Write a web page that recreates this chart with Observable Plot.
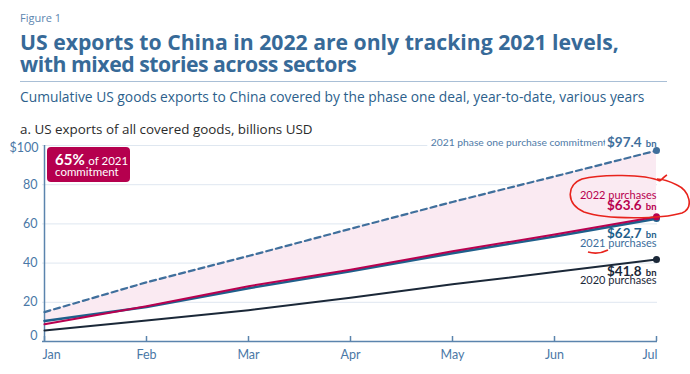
<!DOCTYPE html>
<html><head><meta charset="utf-8">
<script src="https://cdn.jsdelivr.net/npm/d3@7"></script>
<script src="https://cdn.jsdelivr.net/npm/@observablehq/plot@0.6"></script>
<style>
body{margin:0;background:#fff;font-family:"Open Sans",Lato,sans-serif;}
#wrap{position:relative;width:690px;height:374px;overflow:hidden;}
.abs{position:absolute;white-space:nowrap;}
#fig{left:20px;top:11px;font-size:11px;color:#5d86b0;line-height:14px;}
#title{left:20px;top:31px;font-size:21.2px;font-weight:700;line-height:22px;color:#376a98;}
#title .t2{letter-spacing:-0.45px;}
#rule{left:20px;top:81px;width:647px;height:1px;background:#a9bfd6;}
#sub{left:20px;top:88px;font-size:13.8px;color:#2d5f8c;line-height:17px;}
#panel{left:20px;top:121px;font-size:13.4px;color:#2b2b2b;line-height:17px;}
#chart{left:0;top:135px;}
#badge{left:47px;top:147px;width:83px;height:35px;background:#b5004e;border-radius:4px;color:#fff;font-family:Lato,sans-serif;}
#badge .l1{position:absolute;left:8px;top:3px;font-size:15px;font-weight:700;line-height:18px;}
#badge .l1 span{font-size:11.5px;font-weight:400;}
#badge .l2{position:absolute;left:8px;top:18px;font-size:11.5px;line-height:14px;}
#ink{left:0;top:0;pointer-events:none;}
</style>
</head><body>
<div id="wrap">
  <div id="fig" class="abs">Figure 1</div>
  <div id="title" class="abs">US exports to China in 2022 are only tracking 2021 levels,<br><span class="t2">with mixed stories across sectors</span></div>
  <div id="rule" class="abs"></div>
  <div id="sub" class="abs">Cumulative US goods exports to China covered by the phase one deal, year-to-date, various years</div>
  <div id="panel" class="abs">a. US exports of all covered goods, billions USD</div>
  <div id="chart" class="abs"></div>
  <div id="badge" class="abs"><div class="l1"></div><div class="l2">commitment</div></div>
  <svg id="ink" class="abs" width="690" height="374">
    <path d="M660 181 C645 174,600 174,582 179 C566 185,566 204,584 212 C606 220,662 219,682 213 C694 208,690 191,677 185 C669 181,664 179,657 179 M660 181 C663 178,665 176,667 175" fill="none" stroke="#e8231c" stroke-width="1.6"/>
    <path d="M588 252 Q598 255 608 250" fill="none" stroke="#e8231c" stroke-width="1.6"/>
  </svg>
</div>
<script>
const months = ["Jan","Feb","Mar","Apr","May","Jun","Jul"];
const commitment2021 = [15.0, 30.2, 43.6, 57.5, 71.2, 84.2, 97.4];
const purchases2022 = [8.8, 18.0, 28.2, 36.6, 46.0, 54.6, 63.6];
const purchases2021 = [10.5, 17.6, 27.2, 35.8, 45.1, 53.6, 62.7];
const purchases2020 = [5.6, 10.7, 16.0, 22.3, 29.2, 35.4, 41.8];
const yTicks = [0, 20, 40, 60, 80, 100];

const C_COMMIT = "#3f6f9c", C_2022 = "#b8004f", C_2021 = "#1f5f8b", C_2020 = "#1b2838";
const C_AXIS = "#5b84ad", C_TICK = "#4a78a6", C_GRID = "#dfe7f0";

const rows = months.map((m, i) => ({m, c: commitment2021[i], p22: purchases2022[i], p21: purchases2021[i], p20: purchases2020[i]}));
const last = a => a[a.length - 1];
const endM = last(months);
const pct = Math.round(last(purchases2022) / last(commitment2021) * 100);
document.querySelector("#badge .l1").innerHTML = pct + "% <span>of 2021</span>";

const fmt = v => "$" + v.toFixed(1);
const endPt = (v) => [{m: endM, v}];
const font = "Lato, 'Open Sans', sans-serif";

// value label "$xx.x" + "bn" sharing one baseline
const valueLabel = (v, dy, fill, halo) => {
  const extra = halo ? {stroke: "white", strokeWidth: 6} : {};
  return [
    Plot.text(endPt(v), {x: "m", y: "v", text: d => fmt(d.v), textAnchor: "end", lineAnchor: "bottom", dx: -15, dy, fill, fontSize: 13.5, fontWeight: 700, ...extra}),
    Plot.text(endPt(v), {x: "m", y: "v", text: () => "bn", textAnchor: "end", lineAnchor: "bottom", dy, fill, fontSize: 9.5, fontWeight: 700, ...extra})
  ];
};

const chart = Plot.plot({
  width: 690, height: 239,
  marginTop: 10, marginBottom: 33, marginLeft: 42, marginRight: 33,
  style: {fontFamily: font, background: "transparent", overflow: "visible"},
  x: {type: "point", domain: months, padding: 0, axis: null},
  y: {domain: [0, 100], axis: null},
  marks: [
    Plot.ruleY(yTicks.filter(d => d > 0), {stroke: C_GRID, strokeWidth: 1}),
    Plot.areaY(rows, {x: "m", y1: "p22", y2: "c", fill: "#faeaf2"}),
    // y tick labels
    Plot.text(yTicks.filter(d => d > 0 && d < 100), {x: () => months[0], y: d => d, text: d => String(d), textAnchor: "end", dx: -7, fill: C_TICK, fontSize: 12.5}),
    Plot.text(yTicks.filter(d => d === 100), {x: () => months[0], y: d => d, text: d => "$" + d, textAnchor: "end", dx: -6, dy: 2, fill: C_TICK, fontSize: 12.5}),
    Plot.text(yTicks.filter(d => d === 0), {x: () => months[0], y: d => d, text: d => String(d), textAnchor: "end", dx: -7, dy: -6, fill: C_TICK, fontSize: 12.5}),
    // x axis
    Plot.ruleY([0], {stroke: C_AXIS, strokeWidth: 1.5}),
    Plot.ruleX([months[0]], {y1: 0, y2: 100, stroke: C_AXIS, strokeWidth: 1.5}),
    Plot.axisX({tickSize: -5, tickFormat: () => "", stroke: C_AXIS, strokeWidth: 1.5, label: null}),
    Plot.text(months.slice(0, 1), {x: d => d, y: () => 0, text: d => d, textAnchor: "start", dx: -2, dy: 13, fill: C_TICK, fontSize: 12.5}),
    Plot.text(months.slice(1, -1), {x: d => d, y: () => 0, text: d => d, dy: 13, fill: C_TICK, fontSize: 12.5}),
    Plot.text(months.slice(-1), {x: d => d, y: () => 0, text: d => d, textAnchor: "end", dx: 1, dy: 13, fill: C_TICK, fontSize: 12.5}),
    // end labels
    Plot.text(endPt(last(commitment2021)), {x: "m", y: "v", text: () => "2021 phase one purchase commitment", textAnchor: "end", dx: -50, dy: -8, fill: "#4f7ba8", fontSize: 10.3, stroke: "white", strokeWidth: 8}),
    ...valueLabel(last(commitment2021), -4, C_COMMIT, true),
    Plot.text(endPt(last(purchases2022)), {x: "m", y: "v", text: () => "2022 purchases", textAnchor: "end", dy: -21, fill: C_2022, fontSize: 11}),
    ...valueLabel(last(purchases2022), -7, C_2022, false),
    ...valueLabel(last(purchases2021), 19, C_2021, false),
    Plot.text(endPt(last(purchases2021)), {x: "m", y: "v", text: () => "2021 purchases", textAnchor: "end", dy: 25, fill: "#3c6d9b", fontSize: 11}),
    ...valueLabel(last(purchases2020), 16, C_2020, false),
    Plot.text(endPt(last(purchases2020)), {x: "m", y: "v", text: () => "2020 purchases", textAnchor: "end", dy: 21, fill: C_2020, fontSize: 11}),
    // lines
    Plot.line(rows, {x: "m", y: "c", stroke: C_COMMIT, strokeWidth: 2.2, strokeDasharray: "6,4"}),
    Plot.line(rows, {x: "m", y: "p20", stroke: C_2020, strokeWidth: 2}),
    Plot.line(rows, {x: "m", y: "p21", stroke: C_2021, strokeWidth: 2.6}),
    Plot.line(rows, {x: "m", y: "p22", stroke: C_2022, strokeWidth: 2}),
    // end dots
    Plot.dot(endPt(last(commitment2021)), {x: "m", y: "v", r: 3.5, fill: C_COMMIT}),
    Plot.dot(endPt(last(purchases2021)), {x: "m", y: "v", r: 3.5, fill: C_2021}),
    Plot.dot(endPt(last(purchases2022)), {x: "m", y: "v", r: 3.5, fill: C_2022}),
    Plot.dot(endPt(last(purchases2020)), {x: "m", y: "v", r: 3.5, fill: C_2020})
  ]
});
document.getElementById("chart").appendChild(chart);
</script>
</body></html>
